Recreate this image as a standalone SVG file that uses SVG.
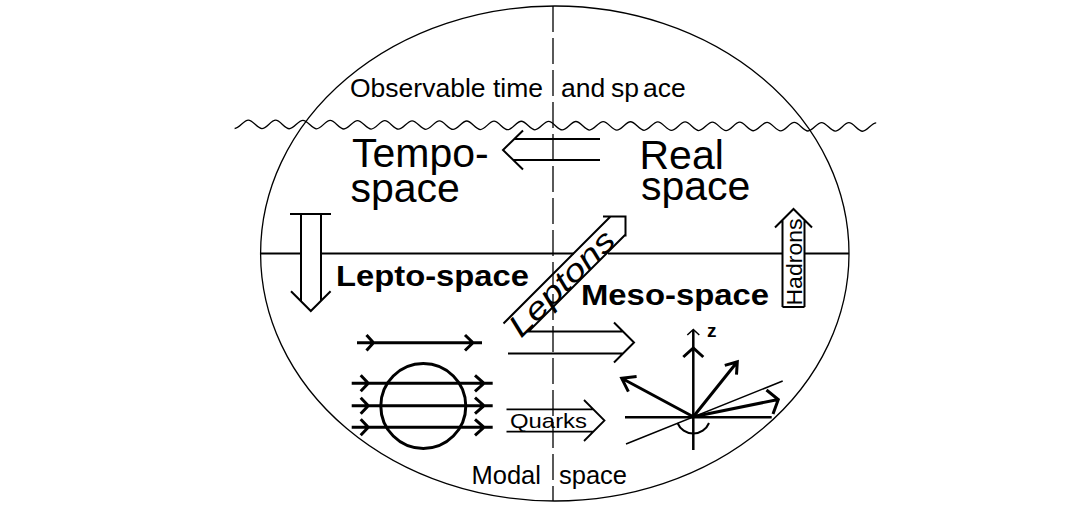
<svg xmlns="http://www.w3.org/2000/svg" width="1071" height="508" viewBox="0 0 1071 508">
<style>
text{font-family:"Liberation Sans",Arial,Helvetica,sans-serif;fill:#000}
.thin{fill:none;stroke:#000;stroke-width:1.3}
.ln{fill:none;stroke:#000;stroke-width:2}
.thk{fill:none;stroke:#000;stroke-width:3}
.big{font-size:41px}
.bold{font-weight:bold;font-size:30px}
</style>
<rect width="1071" height="508" fill="#fff"/>

<g id="frame">
<ellipse cx="554.8" cy="253.5" rx="294.2" ry="247.5" class="thin"/>
<line x1="553" y1="6" x2="553" y2="501" class="thin" stroke-dasharray="26 6"/>
<path class="thin" transform="rotate(0.25 234 124)" d="M234.65,128.5 c4.55,0 9.1,-8.5 13.65,-8.5
 s9.1,8.5 13.65,8.5 s9.1,-8.5 13.65,-8.5 s9.1,8.5 13.65,8.5 s9.1,-8.5 13.65,-8.5 s9.1,8.5 13.65,8.5 s9.1,-8.5 13.65,-8.5 s9.1,8.5 13.65,8.5 s9.1,-8.5 13.65,-8.5
 s9.1,8.5 13.65,8.5 s9.1,-8.5 13.65,-8.5 s9.1,8.5 13.65,8.5 s9.1,-8.5 13.65,-8.5 s9.1,8.5 13.65,8.5 s9.1,-8.5 13.65,-8.5 s9.1,8.5 13.65,8.5 s9.1,-8.5 13.65,-8.5
 s9.1,8.5 13.65,8.5 s9.1,-8.5 13.65,-8.5 s9.1,8.5 13.65,8.5 s9.1,-8.5 13.65,-8.5 s9.1,8.5 13.65,8.5 s9.1,-8.5 13.65,-8.5 s9.1,8.5 13.65,8.5 s9.1,-8.5 13.65,-8.5
 s9.1,8.5 13.65,8.5 s9.1,-8.5 13.65,-8.5 s9.1,8.5 13.65,8.5 s9.1,-8.5 13.65,-8.5 s9.1,8.5 13.65,8.5 s9.1,-8.5 13.65,-8.5 s9.1,8.5 13.65,8.5 s9.1,-8.5 13.65,-8.5
 s9.1,8.5 13.65,8.5 s9.1,-8.5 13.65,-8.5 s9.1,8.5 13.65,8.5 s9.1,-8.5 13.65,-8.5 s9.1,8.5 13.65,8.5 s9.1,-8.5 13.65,-8.5 s9.1,8.5 13.65,8.5 s9.1,-8.5 13.65,-8.5
 s9.1,8.5 13.65,8.5 s9.1,-8.5 13.65,-8.5 s9.1,8.5 13.65,8.5 s9.1,-8.5 13.65,-8.5 s9.1,8.5 13.65,8.5 s9.1,-8.5 13.65,-8.5"/>
<path class="ln" d="M260.5,253.5 H301 M321,253.5 H574 M608,253.5 H782.5 M804.5,253.5 H849"/>
</g>

<g id="observable">
<text x="350" y="97" font-size="26.5">Observable time <tspan x="561">and</tspan> <tspan x="611">sp</tspan><tspan x="643">ace</tspan></text>
</g>

<g id="tempo-space">
<text class="big"><tspan x="352" y="167">Tempo-</tspan><tspan x="350.5" y="202">space</tspan></text>
</g>

<g id="real-space">
<text class="big"><tspan x="639.5" y="169">Real</tspan> <tspan x="641" y="200">space</tspan></text>
</g>

<g id="lepto-space">
<text class="bold" x="336" y="286" textLength="193" lengthAdjust="spacingAndGlyphs">Lepto-space</text>
</g>

<g id="meso-space">
<text class="bold" x="581" y="305" textLength="188" lengthAdjust="spacingAndGlyphs">Meso-space</text>
</g>

<g id="modal-space">
<text x="471.5" y="484" font-size="25.5">Modal <tspan x="559">space</tspan></text>
</g>

<g id="leptons">
<text transform="translate(562,283.5) rotate(-45)" x="0" y="10" text-anchor="middle" font-style="italic" font-size="31" textLength="136" lengthAdjust="spacingAndGlyphs">Leptons</text>
</g>

<g id="hadrons">
<text transform="translate(802,262) rotate(-90)" x="0" y="0" text-anchor="middle" font-size="22" textLength="87" lengthAdjust="spacingAndGlyphs">Hadrons</text>
</g>

<g id="quarks">
<text x="510" y="428" font-size="21" textLength="77" lengthAdjust="spacingAndGlyphs">Quarks</text>
</g>

<g id="field">
<path class="thk" d="M357,342.7 H482 M366.5,335 L373.5,342.7 L366.5,350.5 M465,335 L473,342.7 L465,350.5"/>
<circle cx="423.3" cy="406" r="42.5" class="thk"/>
<path class="thk" d="M351.7,383.3 H492.7 M351.7,405.7 H492.7 M351.7,427.3 H492.7
 M360.7,375.3 L368.3,383.3 L360.7,391.3 M475,375.3 L484,383.3 L475,391.3
 M360.7,397.7 L368.3,405.7 L360.7,413.7 M475,397.7 L484,405.7 L475,413.7
 M360.7,419.3 L368.3,427.3 L360.7,435.3 M475,419.3 L484,427.3 L475,435.3"/>
</g>

<g id="axes">
<path fill="none" stroke="#000" stroke-width="2.5" d="M693.3,330 V450 M625,417.3 H771.7"/>
<path fill="none" stroke="#000" stroke-width="1.5" d="M626,444 L782.7,381 M687.3,335 L693.3,329.5 L699.3,335"/>
<path class="thk" d="M683.3,357 L693.3,348 L703.3,357"/>
<path class="thk" d="M693.3,416.7 L778.3,399.5 M766.5,390 L778.3,399.5 L773,414"/>
<path class="thk" d="M693.3,416.7 L737.3,361.7 M724.8,365.4 L737.3,361.7 L736.5,374.7"/>
<path class="thk" d="M693.3,416.7 L621.7,378.3 M628.4,391.7 L621.7,378.3 L636.6,376.5"/>
<path class="ln" d="M677.5,423 A17,17 0 0 0 709,423"/>
<text x="707" y="337" font-size="19" font-weight="bold">z</text>
</g>

<g id="connectors">
<path class="ln" d="M600,139 H514 M600,160 H513 M523,130.5 L503,150 L523,169.5"/>
<path class="ln" d="M290,214 H331 M301,214 V301.2 M321,214 V300.8 M291,291.2 L310.8,311 L330.6,291.2"/>
<path class="ln" d="M782.5,307 H804.5 M782.5,307 V220 M804.5,307 V220 M775,227.5 L793.5,209 L812,227.5"/>
<path class="ln" d="M503.5,323.5 L610.5,216.5 M603,216.5 H625.5 V236.5 M625.5,234.5 L528.5,331.5 H623 M508,353.5 H623 M614,322.5 L634,342.5 L614,362.5"/>
<path fill="none" stroke="#000" stroke-width="1.8" d="M506.5,409.3 H593.3 M506.5,431.7 H593.3 M584,400 L604.5,420.5 L584,441"/>
</g>
</svg>
